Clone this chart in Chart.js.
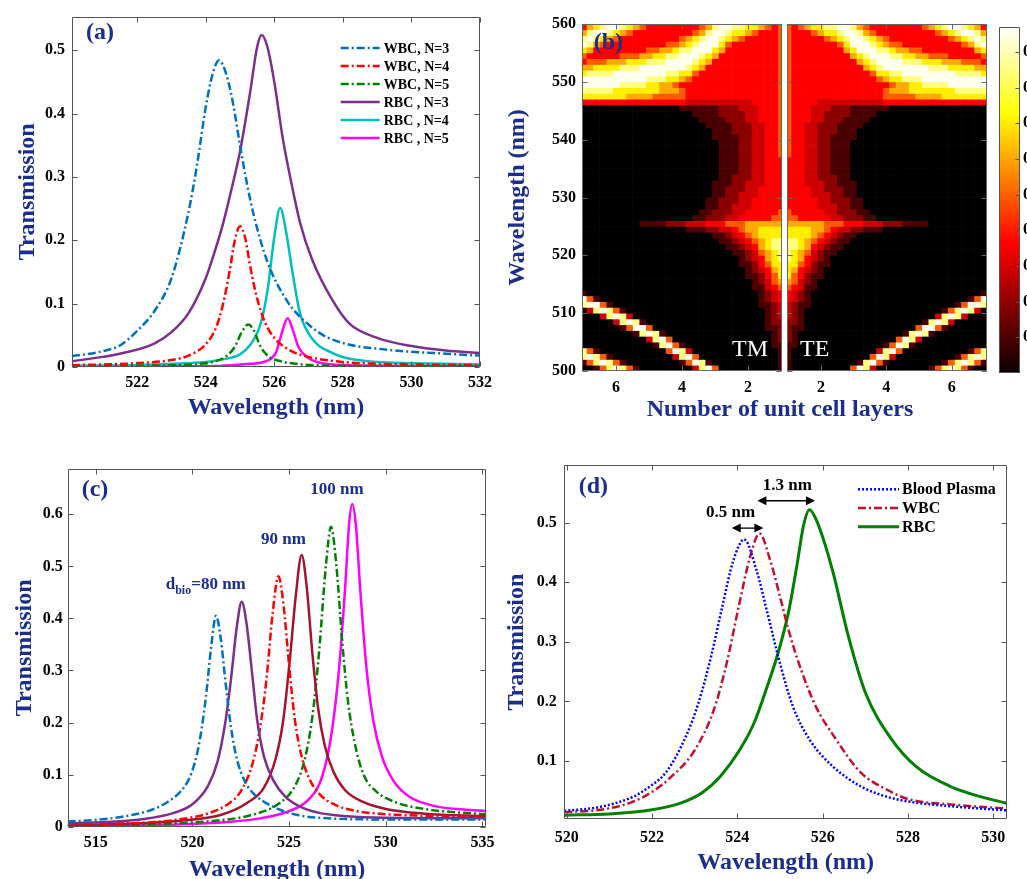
<!DOCTYPE html>
<html>
<head>
<meta charset="utf-8">
<title>Transmission spectra</title>
<script src="https://cdn.jsdelivr.net/npm/chart.js@4.4.1/dist/chart.umd.min.js"></script>
<style>
  html, body { margin:0; padding:0; background:#fff; }
  body { position:relative; width:1027px; height:879px; overflow:hidden; }
  canvas { position:absolute; }
</style>
</head>
<body>
<canvas id="chartA" width="500" height="430" style="left:0px;top:0px"></canvas>
<canvas id="chartTM" width="527" height="430" style="left:500px;top:0px"></canvas>
<canvas id="chartTE" width="215" height="430" style="left:785px;top:0px"></canvas>
<canvas id="chartBar" width="60" height="430" style="left:990px;top:0px"></canvas>
<canvas id="chartC" width="505" height="460" style="left:0px;top:440px"></canvas>
<canvas id="chartD" width="527" height="460" style="left:500px;top:440px"></canvas>
<script>
const FONT = '"Liberation Serif", "Times New Roman", serif';
const NAVY = '#1b2e8e';
Chart.defaults.font.family = FONT;

// ================= DATA =================
// ---- (a) wavelength (nm), transmission ----
const aWBC3 = [[520.1,0.017],[521,0.025],[521.5,0.034],[522,0.057],[522.5,0.088],[523,0.14],[523.5,0.245],[523.75,0.32],[524,0.41],[524.2,0.462],[524.39,0.484],[524.6,0.462],[524.8,0.415],[525,0.35],[525.2,0.29],[525.4,0.24],[525.8,0.166],[526.4,0.102],[527,0.067],[527.5,0.048],[528.2,0.035],[529,0.029],[530,0.024],[531,0.021],[532,0.018]];
const aWBC4 = [[520.1,0.003],[521,0.004],[522,0.006],[523,0.011],[523.5,0.018],[524,0.036],[524.3,0.062],[524.5,0.098],[524.7,0.152],[524.85,0.2],[525,0.222],[525.15,0.204],[525.3,0.158],[525.5,0.108],[525.75,0.068],[526,0.046],[526.5,0.025],[527,0.016],[528,0.008],[529,0.005],[530,0.004],[532,0.003]];
const aWBC5 = [[520.1,0.001],[522,0.002],[523.5,0.004],[524.2,0.008],[524.6,0.017],[524.85,0.032],[525.05,0.055],[525.24,0.067],[525.4,0.058],[525.6,0.032],[525.85,0.016],[526.2,0.009],[526.8,0.004],[528,0.002],[532,0.001]];
const aRBC3 = [[520.1,0.009],[521,0.016],[521.5,0.021],[522.5,0.037],[523,0.055],[523.5,0.085],[524,0.14],[524.25,0.18],[524.5,0.225],[524.75,0.28],[525,0.34],[525.3,0.435],[525.5,0.505],[525.63,0.524],[525.8,0.505],[526,0.45],[526.25,0.36],[526.5,0.29],[526.75,0.228],[527.1,0.17],[527.7,0.105],[528.2,0.068],[529,0.046],[530,0.033],[531,0.026],[532,0.022]];
const aRBC4 = [[520.1,0.002],[522,0.003],[523,0.005],[524,0.008],[524.5,0.012],[525,0.02],[525.3,0.035],[525.6,0.068],[525.8,0.12],[526,0.205],[526.17,0.251],[526.35,0.212],[526.5,0.16],[526.75,0.085],[527.1,0.045],[527.7,0.022],[528.2,0.013],[529,0.008],[530,0.006],[532,0.004]];
const aRBC5 = [[520.1,0.001],[523,0.001],[524.5,0.002],[525.3,0.005],[525.8,0.01],[526.05,0.023],[526.2,0.05],[526.39,0.077],[526.55,0.057],[526.7,0.032],[526.95,0.016],[527.3,0.007],[528,0.003],[529,0.002],[532,0.001]];
const aLabels = ['WBC, N=3','WBC, N=4','WBC, N=5','RBC , N=3','RBC , N=4','RBC , N=5'];
const aXTicks = [522,524,526,528,530,532];
const aYTicks = [0,0.1,0.2,0.3,0.4,0.5];

// ---- (b) heat map: N columns, wavelength rows, intensity level 0..9 ----
const hmN = [1.0,1.2,1.4,1.6,1.8,2.0,2.2,2.4,2.6,2.8,3.0,3.2,3.4,3.6,3.8,4.0,4.2,4.4,4.6,4.8,5.0,5.2,5.4,5.6,5.8,6.0,6.2,6.4,6.6,6.8,7.0];
const hmLambda = [559.5,558.5,557.5,556.5,555.5,554.5,553.5,552.5,551.5,550.5,
                  549.5,548.5,547.5,546.5,545.5,544.5,543.5,542.5,541.5,540.5,
                  539.5,538.5,537.5,536.5,535.5,534.5,533.5,532.5,531.5,530.5,
                  529.5,528.5,527.5,526.5,525.5,524.5,523.5,522.5,521.5,520.5,
                  519.5,518.5,517.5,516.5,515.5,514.5,513.5,512.5,511.5,510.5,
                  509.5,508.5,507.5,506.5,505.5,504.5,503.5,502.5,501.5,500.5];
const hmRows = [
  "5456778899"+"8654444444"+"4567899876"+"4",
  "5444567789"+"9865444444"+"4445678998"+"6",
  "5444445678"+"9987654444"+"4444456789"+"8",
  "5444444457"+"9998765544"+"4444444568"+"9",
  "5444444446"+"7999887665"+"5444444446"+"7",
  "5444444444"+"6789998877"+"6655544444"+"5",
  "5444444444"+"4678999988"+"8777666555"+"4",
  "5444444444"+"4467899999"+"9988877776"+"6",
  "5444444444"+"4445778899"+"9999998888"+"7",
  "5444444444"+"4444567788"+"8999999999"+"9",
  "5444444444"+"4444445667"+"7888899999"+"9",
  "5444444444"+"4444456667"+"7777778888"+"8",
  "5444444444"+"4444455555"+"6666777777"+"7",
  "5444433333"+"3333344444"+"4444444444"+"4",
  "5444333222"+"1111110000",
  "5444332222"+"1111000000",
  "5444332221"+"1110000000",
  "5443322211"+"1100000000",
  "5443322211"+"1000000000",
  "5443322111"+"1000000000",
  "5443322111",
  "5443322111",
  "5443322111",
  "4443322111",
  "4443322111",
  "4443322111",
  "4443322211",
  "4443332211"+"1000000000",
  "4444332221"+"1000000000",
  "4444333221"+"1000000000",
  "4444433222"+"1100000000",
  "4444433322"+"1100000000",
  "5444443322"+"2110000000",
  "5544444332"+"2211000000",
  "6666665554"+"4433322211"+"1100000000",
  "7777665433"+"2211100000",
  "7777654321"+"1000000000",
  "8876543211",
  "8876432110",
  "8765321100",
  "8764321000",
  "7754211000",
  "7643210000",
  "7542110000",
  "6532100000",
  "5431100000",
  "4321000000"+"0000000000"+"0000000000"+"1",
  "4321000000"+"0000000000"+"0000000015"+"9",
  "3211000000"+"0000000000"+"0000001599"+"8",
  "3210000000"+"0000000000"+"0000158983"+"0",
  "3210000000"+"0000000000"+"0003898300"+"0",
  "2210000000"+"0000000000"+"0189830000"+"0",
  "2110000000"+"0000000000"+"5995100000"+"0",
  "2100000000"+"0000000018"+"9810000000"+"0",
  "2100000000"+"0000000598"+"3000000000"+"0",
  "1100000000"+"0000015981"+"0000000000"+"0",
  "1000000000"+"0000389500"+"0000000015"+"8",
  "1000000000"+"0005983000"+"0000001589"+"8",
  "1000000000"+"0189510000"+"0000158985"+"1",
  "1000000000"+"5983000000"+"0015898510"+"0"
];
const bXTicks = [2,4,6];
const bYTicks = [500,510,520,530,540,550,560];
const cbarRange = [0, 0.97];
const cbarTicks = [0.1,0.2,0.3,0.4,0.5,0.6,0.7,0.8,0.9];

// ---- (c) ----
const cBlue = [[513.55,0.01],[515,0.013],[516.5,0.02],[517.7,0.03],[518.7,0.047],[519.4,0.068],[519.8,0.09],[520.1,0.12],[520.4,0.17],[520.7,0.25],[520.97,0.345],[521.22,0.405],[521.47,0.36],[521.72,0.275],[522,0.19],[522.3,0.13],[522.7,0.088],[523.2,0.062],[523.7,0.048],[524.5,0.033],[525.5,0.022],[527,0.016],[530,0.014],[535.2,0.014]];
const cPurple = [[513.55,0.0064],[515.5,0.009],[517.5,0.015],[519,0.026],[520,0.043],[520.8,0.078],[521.3,0.125],[521.7,0.2],[522,0.285],[522.3,0.385],[522.55,0.432],[522.8,0.39],[523.1,0.29],[523.35,0.205],[523.7,0.135],[524.2,0.088],[524.8,0.058],[525.5,0.04],[526.5,0.027],[528,0.02],[530,0.017],[535.2,0.016]];
const cRed = [[513.55,0.0045],[516,0.006],[518,0.009],[520,0.018],[521,0.028],[521.9,0.045],[522.5,0.068],[523.1,0.12],[523.5,0.19],[523.85,0.29],[524.15,0.41],[524.45,0.481],[524.7,0.43],[525,0.31],[525.3,0.205],[525.65,0.135],[526.1,0.088],[526.7,0.058],[527.5,0.04],[528.5,0.03],[530,0.024],[532,0.021],[535.2,0.019]];
const cDarkRed = [[513.55,0.003],[517,0.006],[519.5,0.012],[521.5,0.023],[522.8,0.045],[523.7,0.075],[524.3,0.13],[524.7,0.205],[525.05,0.325],[525.35,0.445],[525.65,0.522],[525.9,0.465],[526.2,0.335],[526.5,0.228],[526.85,0.155],[527.3,0.105],[527.9,0.07],[528.8,0.048],[530,0.034],[532,0.025],[535.2,0.02]];
const cGreen = [[513.55,0.002],[518,0.005],[521,0.011],[523,0.022],[524.5,0.045],[525.3,0.078],[525.8,0.128],[526.2,0.21],[526.55,0.335],[526.9,0.5],[527.17,0.576],[527.45,0.5],[527.75,0.355],[528.05,0.24],[528.4,0.16],[528.85,0.1],[529.5,0.068],[530.5,0.047],[532,0.034],[533.5,0.028],[535.2,0.024]];
const cMagenta = [[513.55,0.0013],[518,0.003],[521,0.007],[523.5,0.016],[525,0.03],[526,0.052],[526.7,0.095],[527.2,0.18],[527.6,0.31],[527.9,0.46],[528.1,0.58],[528.27,0.62],[528.45,0.58],[528.7,0.445],[529,0.305],[529.35,0.205],[529.8,0.135],[530.4,0.088],[531.2,0.058],[532.5,0.04],[534,0.033],[535.2,0.03]];
const cXTicks = [515,520,525,530,535];
const cYTicks = [0,0.1,0.2,0.3,0.4,0.5,0.6];

// ---- (d) ----
const dPlasma = [[519.945,0.016],[520.8,0.023],[521.56,0.04],[521.95,0.057],[522.34,0.082],[522.8,0.142],[523.1,0.2],[523.4,0.28],[523.65,0.36],[523.9,0.435],[524.16,0.472],[524.45,0.42],[524.7,0.35],[525,0.264],[525.3,0.192],[525.7,0.135],[526.25,0.09],[526.9,0.057],[527.5,0.04],[528,0.032],[529,0.024],[530.32,0.017]];
const dWBC = [[519.945,0.014],[520.8,0.018],[521.5,0.03],[522,0.048],[522.4,0.07],[523,0.118],[523.45,0.186],[523.75,0.264],[524.05,0.365],[524.3,0.443],[524.52,0.482],[524.77,0.437],[525,0.376],[525.2,0.32],[525.5,0.252],[525.85,0.19],[526.25,0.143],[526.9,0.08],[527.5,0.052],[528,0.036],[529,0.027],[530.32,0.02]];
const dRBC = [[519.945,0.009],[521,0.011],[522,0.018],[522.7,0.03],[523.2,0.048],[523.6,0.074],[524.05,0.118],[524.4,0.165],[524.7,0.225],[524.95,0.28],[525.2,0.35],[525.4,0.43],[525.55,0.495],[525.69,0.522],[525.85,0.505],[526.05,0.465],[526.25,0.415],[526.6,0.31],[527,0.215],[527.6,0.138],[528.2,0.09],[529,0.057],[529.7,0.04],[530.32,0.029]];
const dLabels = ['Blood Plasma','WBC','RBC'];
const dXTicks = [520,522,524,526,528,530];
const dYTicks = [0.1,0.2,0.3,0.4,0.5];

// ================= STYLE HELPERS =================
const DASHDOT = [8, 3, 2, 3];
const DOT = [2, 2];
const heatPalette = ['#000000','#4a0000','#8c0000','#d00000','#ff0000','#ff5a00','#ffaa00','#ffee00','#ffff80','#ffffee'];

function decorPlugin(cfg) {
  return {
    id: 'decor',
    afterDatasetsDraw(chart) {
      const {ctx, chartArea: a, scales} = chart;
      const X = scales.x, Y = scales.y;
      ctx.save();
      ctx.strokeStyle = cfg.frameColor || '#555';
      ctx.lineWidth = 1;
      ctx.setLineDash([]);
      const L = Math.round(a.left) + 0.5, R = Math.round(a.right) - 0.5;
      const T = Math.round(a.top) + 0.5, B = Math.round(a.bottom) - 0.5;
      ctx.beginPath();
      ctx.rect(L, T, R - L, B - T);
      const tl = cfg.tickLen || 5;
      if (cfg.xTicks !== false) {
        X.ticks.forEach(t => {
          const p = Math.round(X.getPixelForValue(t.value)) + 0.5;
          ctx.moveTo(p, B); ctx.lineTo(p, B - tl);
          ctx.moveTo(p, T); ctx.lineTo(p, T + tl);
        });
      }
      Y.ticks.forEach(t => {
        const p = Math.round(Y.getPixelForValue(t.value)) + 0.5;
        if (cfg.yLeft !== false) { ctx.moveTo(L, p); ctx.lineTo(L + tl, p); }
        if (cfg.yRight !== false) { ctx.moveTo(R, p); ctx.lineTo(R - tl, p); }
      });
      ctx.stroke();

      if (cfg.legend) {
        const g = cfg.legend;
        chart.data.datasets.forEach((d, i) => {
          const y = a.top + g.dy + i * g.row;
          const x0 = a.left + g.dx;
          ctx.beginPath();
          ctx.setLineDash(d.borderDash || []);
          ctx.lineWidth = d.borderWidth;
          ctx.strokeStyle = d.borderColor;
          ctx.moveTo(x0, y); ctx.lineTo(x0 + g.len, y);
          ctx.stroke();
          ctx.setLineDash([]);
          ctx.fillStyle = '#000';
          ctx.font = g.font;
          ctx.textAlign = 'left';
          ctx.textBaseline = 'middle';
          ctx.fillText(d.label, x0 + g.len + g.gap, y + 1);
        });
      }

      (cfg.arrows || []).forEach(ar => {
        const x1 = X.getPixelForValue(ar.x1), x2 = X.getPixelForValue(ar.x2), y = Y.getPixelForValue(ar.y);
        ctx.strokeStyle = '#000'; ctx.fillStyle = '#000'; ctx.lineWidth = 1.3; ctx.setLineDash([]);
        const h = 9, w = 4.5;
        ctx.beginPath(); ctx.moveTo(x1 + h - 1, y); ctx.lineTo(x2 - h + 1, y); ctx.stroke();
        ctx.beginPath(); ctx.moveTo(x1, y); ctx.lineTo(x1 + h, y - w); ctx.lineTo(x1 + h, y + w); ctx.closePath(); ctx.fill();
        ctx.beginPath(); ctx.moveTo(x2, y); ctx.lineTo(x2 - h, y - w); ctx.lineTo(x2 - h, y + w); ctx.closePath(); ctx.fill();
      });

      (cfg.texts || []).forEach(t => {
        let x, y;
        if (t.coord === 'data') { x = X.getPixelForValue(t.x); y = Y.getPixelForValue(t.y); }
        else { x = t.x; y = t.y; }
        ctx.fillStyle = t.color || '#000';
        ctx.textBaseline = 'middle';
        if (t.parts) {
          ctx.textAlign = 'left';
          let cx = x;
          t.parts.forEach(p => {
            ctx.font = p.font;
            ctx.fillText(p.text, cx, y + (p.dy || 0));
            cx += ctx.measureText(p.text).width;
          });
        } else {
          ctx.font = t.font;
          ctx.textAlign = t.align || 'center';
          ctx.fillText(t.text, x, y);
        }
      });
      ctx.restore();
    }
  };
}

function numAxis(o) {
  return {
    type: 'linear', position: o.position, min: o.min, max: o.max, reverse: !!o.reverse, offset: false,
    afterBuildTicks: s => { s.ticks = o.ticks.map(v => ({value: v})); },
    afterFit: s => {
      if (o.width !== undefined) s.width = o.width;
      if (o.height !== undefined) s.height = o.height;
    },
    grid: {display: false, drawTicks: false},
    border: {display: false},
    ticks: {
      display: o.showTicks !== false, color: '#000',
      font: {family: FONT, size: 16, weight: 'bold'},
      padding: o.pad || 3, maxRotation: 0, autoSkip: false,
      callback: v => String(v)
    },
    title: o.title ? {display: true, text: o.title, color: NAVY,
      font: {family: FONT, size: 24, weight: 'bold'}, padding: o.titlePad} : {display: false}
  };
}

function lineDs(label, pts, color, dash, width) {
  return {
    label, data: pts.map(p => ({x: p[0], y: p[1]})),
    borderColor: color, backgroundColor: color, borderWidth: width, borderDash: dash,
    pointRadius: 0, pointHoverRadius: 0, cubicInterpolationMode: 'monotone', fill: false,
    borderCapStyle: 'butt'
  };
}

function baseOptions(padding, scales) {
  return {
    responsive: false, animation: false, devicePixelRatio: 1, events: [],
    layout: {padding},
    plugins: {legend: {display: false}, tooltip: {enabled: false}},
    scales
  };
}

// ================= PANEL (a) =================
new Chart(document.getElementById('chartA'), {
  type: 'line',
  data: {datasets: [
    lineDs(aLabels[0], aWBC3, '#0072BD', DASHDOT, 2.5),
    lineDs(aLabels[1], aWBC4, '#FF0000', DASHDOT, 2.5),
    lineDs(aLabels[2], aWBC5, '#008000', DASHDOT, 2.5),
    lineDs(aLabels[3], aRBC3, '#7E2F8E', [], 2.5),
    lineDs(aLabels[4], aRBC4, '#00BFBF', [], 2.5),
    lineDs(aLabels[5], aRBC5, '#FF00FF', [], 2.5)
  ]},
  options: baseOptions({left: 0, top: 11, right: 20, bottom: 0}, {
    x: numAxis({position: 'bottom', min: 520.1, max: 532, ticks: aXTicks, height: 63, pad: 6.4,
      title: 'Wavelength (nm)', titlePad: {top: 0, bottom: 7.6}}),
    y: numAxis({position: 'left', min: 0, max: 0.553, ticks: aYTicks, width: 72, pad: 7,
      title: 'Transmission', titlePad: {top: 13.6, bottom: 0}})
  }),
  plugins: [decorPlugin({
    legend: {dx: 268.7, dy: 31.3, len: 39, gap: 4, row: 18, font: 'bold 14px ' + FONT},
    texts: [{text: '(a)', x: 100, y: 33, font: 'bold 24px ' + FONT, color: NAVY}]
  })]
});

// ================= PANEL (b) =================
function heatData() {
  return {
    datasets: hmLambda.map((lam, r) => {
      const row = hmRows[r].padEnd(hmN.length, '0');
      return {
        data: hmN.map(n => ({x: n, y: [lam - 0.5, lam + 0.5]})),
        backgroundColor: hmN.map((n, c) => heatPalette[Number(row[c])]),
        borderWidth: 0, grouped: false, barPercentage: 1, categoryPercentage: 1
      };
    })
  };
}

new Chart(document.getElementById('chartTM'), {
  type: 'bar',
  data: heatData(),
  options: baseOptions({left: 0, top: 24, right: 245, bottom: 0}, {
    x: numAxis({position: 'bottom', min: 0.97, max: 7.03, reverse: true, ticks: bXTicks, height: 59, pad: 7.4}),
    y: numAxis({position: 'left', min: 500, max: 560, ticks: bYTicks, width: 82, pad: 6,
      title: 'Wavelength (nm)', titlePad: {top: 3.6, bottom: 0}})
  }),
  plugins: [decorPlugin({
    frameColor: '#666',
    texts: [
      {text: '(b)', x: 108.3, y: 42.7, font: 'bold 24px ' + FONT, color: NAVY},
      {text: 'TM', x: 250, y: 350, font: '24px ' + FONT, color: '#ffffff'},
      {text: 'Number of unit cell layers', x: 280, y: 410, font: 'bold 24px ' + FONT, color: NAVY}
    ]
  })]
});

new Chart(document.getElementById('chartTE'), {
  type: 'bar',
  data: heatData(),
  options: baseOptions({left: 2, top: 24, right: 13, bottom: 0}, {
    x: numAxis({position: 'bottom', min: 0.96, max: 7.08, ticks: bXTicks, height: 59, pad: 7.4}),
    y: numAxis({position: 'left', min: 500, max: 560, ticks: bYTicks, width: 0, showTicks: false})
  }),
  plugins: [decorPlugin({
    frameColor: '#666',
    texts: [{text: 'TE', x: 29.7, y: 350, font: '24px ' + FONT, color: '#ffffff'}]
  })]
});

new Chart(document.getElementById('chartBar'), {
  type: 'bar',
  data: {labels: ['T'], datasets: [{
    data: [cbarRange],
    backgroundColor: (c) => {
      const ch = c.chart, a = ch.chartArea;
      if (!a) return '#000';
      const g = ch.ctx.createLinearGradient(0, a.bottom, 0, a.top);
      g.addColorStop(0, '#0a0000');
      g.addColorStop(0.375, '#ff0000');
      g.addColorStop(0.75, '#ffff00');
      g.addColorStop(1, '#ffffff');
      return g;
    },
    borderWidth: 0, barPercentage: 1, categoryPercentage: 1
  }]},
  options: baseOptions({left: 9, top: 27, right: 0, bottom: 57}, {
    x: {display: false},
    y: numAxis({position: 'right', min: cbarRange[0], max: cbarRange[1], ticks: cbarTicks, width: 30, pad: 3})
  }),
  plugins: [decorPlugin({xTicks: false, yLeft: false, tickLen: 4, frameColor: '#555'})]
});

// ================= PANEL (c) =================
new Chart(document.getElementById('chartC'), {
  type: 'line',
  data: {datasets: [
    lineDs('80 nm WBC', cBlue, '#0072BD', DASHDOT, 2.5),
    lineDs('80 nm RBC', cPurple, '#7E2F8E', [], 2.5),
    lineDs('90 nm WBC', cRed, '#FF0000', DASHDOT, 2.5),
    lineDs('90 nm RBC', cDarkRed, '#A2142F', [], 2.5),
    lineDs('100 nm WBC', cGreen, '#008000', DASHDOT, 2.5),
    lineDs('100 nm RBC', cMagenta, '#FF00FF', [], 2.5)
  ]},
  options: baseOptions({left: 0, top: 29, right: 18.7, bottom: 0}, {
    x: numAxis({position: 'bottom', min: 513.55, max: 535.2, ticks: cXTicks, height: 73.3, pad: 7,
      title: 'Wavelength (nm)', titlePad: {top: 0, bottom: 15.6}}),
    y: numAxis({position: 'left', min: 0, max: 0.687, ticks: cYTicks, width: 67.7, pad: 5,
      title: 'Transmission', titlePad: {top: 10.6, bottom: 0}})
  }),
  plugins: [decorPlugin({
    texts: [
      {text: '(c)', x: 95, y: 50, font: 'bold 24px ' + FONT, color: NAVY},
      {text: '100 nm', coord: 'data', x: 527.48, y: 0.647, font: 'bold 17px ' + FONT, color: NAVY},
      {text: '90 nm', coord: 'data', x: 524.71, y: 0.552, font: 'bold 17px ' + FONT, color: NAVY},
      {coord: 'data', x: 518.62, y: 0.464, color: NAVY, parts: [
        {text: 'd', font: 'bold 17px ' + FONT},
        {text: 'bio', font: 'bold 12px ' + FONT, dy: 6},
        {text: '=80 nm', font: 'bold 17px ' + FONT}
      ]}
    ]
  })]
});

// ================= PANEL (d) =================
new Chart(document.getElementById('chartD'), {
  type: 'line',
  data: {datasets: [
    lineDs(dLabels[0], dPlasma, '#0000FF', DOT, 2.5),
    lineDs(dLabels[1], dWBC, '#C0122F', DASHDOT, 2.5),
    lineDs(dLabels[2], dRBC, '#008000', [], 3)
  ]},
  options: baseOptions({left: 0, top: 25, right: 20, bottom: 0}, {
    x: numAxis({position: 'bottom', min: 519.945, max: 530.32, ticks: dXTicks, height: 80.7, pad: 9.4,
      title: 'Wavelength (nm)', titlePad: {top: 0, bottom: 22.6}}),
    y: numAxis({position: 'left', min: 0.002, max: 0.597, ticks: dYTicks, width: 64.3, pad: 7.6,
      title: 'Transmission', titlePad: {top: 2.6, bottom: 0}})
  }),
  plugins: [decorPlugin({
    legend: {dx: 293.7, dy: 24.3, len: 41, gap: 3, row: 18.7, font: 'bold 16px ' + FONT},
    arrows: [{x1: 523.87, x2: 524.61, y: 0.491}, {x1: 524.47, x2: 525.82, y: 0.537}],
    texts: [
      {text: '(d)', x: 93.3, y: 46.7, font: 'bold 24px ' + FONT, color: NAVY},
      {text: '0.5 nm', coord: 'data', x: 523.84, y: 0.517, font: 'bold 17px ' + FONT, color: '#000'},
      {text: '1.3 nm', coord: 'data', x: 525.17, y: 0.563, font: 'bold 17px ' + FONT, color: '#000'}
    ]
  })]
});
</script>
</body>
</html>
